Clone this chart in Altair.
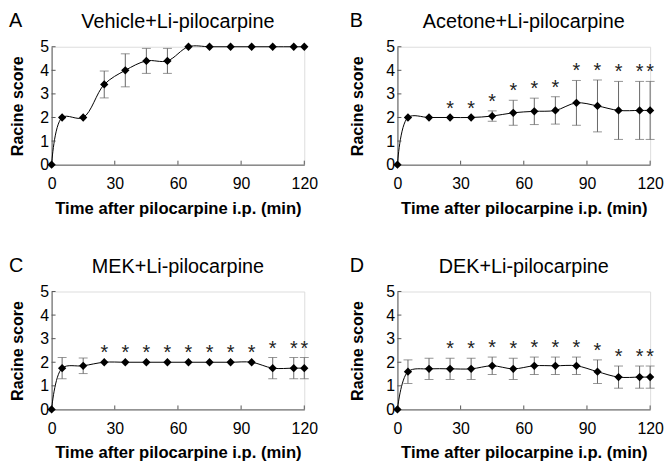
import altair as alt
import pandas as pd

times = [0, 5, 15, 25, 35, 45, 55, 65, 75, 85, 95, 105, 115, 120]

a_mean = [0, 2, 2, 3.4, 4.0, 4.4, 4.4, 5, 5, 5, 5, 5, 5, 5]
a_err = [0, 0, 0, 0.57, 0.7, 0.53, 0.53, 0, 0, 0, 0, 0, 0, 0]
a_star = [0] * 14

b_mean = [0, 2, 2, 2, 2, 2.06, 2.2, 2.26, 2.3, 2.62, 2.49, 2.3, 2.3, 2.3]
b_err = [0, 0, 0, 0, 0, 0.22, 0.53, 0.56, 0.58, 0.95, 1.1, 1.23, 1.23, 1.23]
b_star = [0, 0, 0, 1, 1, 1, 1, 1, 1, 1, 1, 1, 1, 1]

c_mean = [0, 1.75, 1.85, 2, 2, 2, 2, 2, 2, 2, 2, 1.75, 1.75, 1.75]
c_err = [0, 0.45, 0.33, 0, 0, 0, 0, 0, 0, 0, 0, 0.45, 0.45, 0.45]
c_star = [0, 0, 0, 1, 1, 1, 1, 1, 1, 1, 1, 1, 1, 1]

d_mean = [0, 1.6, 1.72, 1.72, 1.72, 1.85, 1.72, 1.85, 1.85, 1.85, 1.6, 1.37, 1.37, 1.37]
d_err = [0, 0.5, 0.45, 0.45, 0.45, 0.37, 0.45, 0.37, 0.37, 0.37, 0.5, 0.47, 0.47, 0.47]
d_star = [0, 0, 0, 1, 1, 1, 1, 1, 1, 1, 1, 1, 1, 1]

titles = ["Vehicle+Li-pilocarpine", "Acetone+Li-pilocarpine",
          "MEK+Li-pilocarpine", "DEK+Li-pilocarpine"]
letters = ["A", "B", "C", "D"]
x_ticks = [0, 30, 60, 90, 120]
y_ticks = [0, 1, 2, 3, 4, 5]

W, H = 255, 119
FONT = "Liberation Sans"
AXIS_COLOR = "#555555"
ERR_COLOR = "#666666"


def panel(mean, err, star, title, letter, letter_dx, ytitle_pad):
    df = pd.DataFrame({"time": times, "mean": mean, "err": err, "star": star})
    df["lo"] = df["mean"] - df["err"]
    df["hi"] = df["mean"] + df["err"]
    eb = df[df["err"] > 0]
    st = df[df["star"] > 0]

    xs = alt.Scale(domain=[0, 120], nice=False, padding=0)
    ys = alt.Scale(domain=[0, 5], nice=False, padding=0)
    xax = alt.Axis(
        values=x_ticks, title="Time after pilocarpine i.p. (min)",
        ticks=False, grid=False, domainColor=AXIS_COLOR,
        labelFlush=False, labelOverlap=False, labelBound=False,
        labelFont=FONT, labelFontSize=16, labelColor="black",
        labelPadding=11, titleFont=FONT, titleFontSize=16.8,
        titleFontWeight="bold", titleColor="black", titlePadding=9)
    yax = alt.Axis(
        values=y_ticks, title="Racine score", ticks=False, grid=False,
        domainColor=AXIS_COLOR, labelFlush=False, labelOverlap=False,
        labelFont=FONT, labelFontSize=16,
        labelColor="black", labelPadding=3, titleFont=FONT,
        titleFontSize=16.2, titleFontWeight="bold", titleColor="black",
        titlePadding=ytitle_pad)

    def X(f):
        return alt.X(f, scale=xs, axis=xax)

    def Y(f):
        return alt.Y(f, scale=ys, axis=yax)

    line = alt.Chart(df).mark_line(
        interpolate="catmull-rom", color="black", strokeWidth=1
    ).encode(x=X("time:Q"), y=Y("mean:Q"))

    xt = alt.Chart(pd.DataFrame({"t": x_ticks[1:]})).mark_rule(
        color=AXIS_COLOR, strokeWidth=1
    ).encode(x=X("t:Q"), y=alt.value(H), y2=alt.value(H - 4))
    yt = alt.Chart(pd.DataFrame({"v": y_ticks[1:]})).mark_rule(
        color=AXIS_COLOR, strokeWidth=1
    ).encode(y=Y("v:Q"), x=alt.value(0), x2=alt.value(4))

    layers = [line, xt, yt]
    if len(eb):
        rule = alt.Chart(eb).mark_rule(color=ERR_COLOR, strokeWidth=1).encode(
            x=X("time:Q"), y=Y("lo:Q"), y2="hi:Q")
        cap_lo = alt.Chart(eb).mark_tick(
            orient="horizontal", color=ERR_COLOR, size=9, thickness=1
        ).encode(x=X("time:Q"), y=Y("lo:Q"))
        cap_hi = alt.Chart(eb).mark_tick(
            orient="horizontal", color=ERR_COLOR, size=9, thickness=1
        ).encode(x=X("time:Q"), y=Y("hi:Q"))
        layers += [rule, cap_lo, cap_hi]

    pts = alt.Chart(df).mark_point(
        shape="diamond", filled=True, size=70, color="black", opacity=1
    ).encode(x=X("time:Q"), y=Y("mean:Q"))
    layers.append(pts)

    if len(st):
        stars = alt.Chart(st).mark_text(
            text="*", font=FONT, fontSize=20, color="#222222",
            baseline="alphabetic", dy=-3
        ).encode(x=X("time:Q"), y=Y("hi:Q"))
        layers.append(stars)

    lab = pd.DataFrame({"title": [title], "letter": [letter]})
    ttl = alt.Chart(lab).mark_text(
        font=FONT, fontSize=20, color="black", align="center",
        baseline="alphabetic"
    ).encode(text="title:N", x=alt.value(W / 2), y=alt.value(-19))
    let = alt.Chart(lab).mark_text(
        font=FONT, fontSize=20, color="black", align="left",
        baseline="alphabetic"
    ).encode(text="letter:N", x=alt.value(letter_dx), y=alt.value(-20))
    layers += [ttl, let]

    return alt.layer(*layers).properties(width=W, height=H)


pa = panel(a_mean, a_err, a_star, titles[0], letters[0], -43, 14)
pb = panel(b_mean, b_err, b_star, titles[1], letters[1], -48, 20)
pc = panel(c_mean, c_err, c_star, titles[2], letters[2], -43, 14)
pd_ = panel(d_mean, d_err, d_star, titles[3], letters[3], -48, 20)

chart = alt.concat(
    pa, pb, pc, pd_, columns=2, bounds="flush",
    spacing={"row": 128, "column": 94}
).properties(
    padding={"left": 0, "top": 0, "right": 0, "bottom": 0}
).configure_view(strokeWidth=0).configure(background="white")

chart.save("out.html", embed_options={"renderer": "svg", "actions": False})
